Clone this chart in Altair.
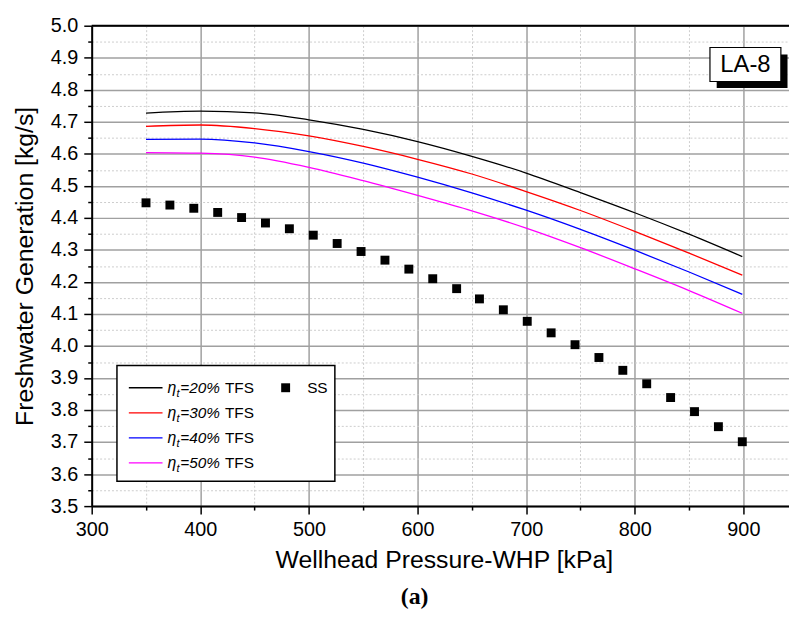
import altair as alt
import pandas as pd

# ---------------- data ----------------
series = ["eta20", "eta30", "eta40", "eta50"]
series_labels = ["=20%", "=30%", "=40%", "=50%"]
colors = ["#000000", "#ff0000", "#0000ff", "#ff00ff"]

x_line = [350, 400, 450, 500, 550, 600, 650, 700, 750, 800, 850, 899]
y_eta20 = [4.727, 4.733, 4.728, 4.706, 4.676, 4.638, 4.592, 4.540, 4.479, 4.416, 4.349, 4.279]
y_eta30 = [4.686, 4.690, 4.679, 4.656, 4.623, 4.583, 4.537, 4.482, 4.423, 4.358, 4.290, 4.221]
y_eta40 = [4.645, 4.646, 4.634, 4.607, 4.571, 4.527, 4.478, 4.424, 4.364, 4.299, 4.231, 4.161]
y_eta50 = [4.604, 4.602, 4.590, 4.558, 4.516, 4.470, 4.422, 4.368, 4.307, 4.241, 4.173, 4.102]

x_ss = [350, 372, 394, 416, 438, 460, 482, 504, 526, 548, 570, 592, 614,
        636, 657, 679, 701, 723, 745, 767, 789, 811, 833, 855, 877, 899]
y_ss = [4.447, 4.440, 4.430, 4.417, 4.401, 4.384, 4.366, 4.346, 4.320, 4.295,
        4.268, 4.240, 4.210, 4.179, 4.147, 4.113, 4.077, 4.041, 4.004, 3.964,
        3.924, 3.882, 3.839, 3.795, 3.748, 3.701]

x_ticks = [300, 350, 400, 450, 500, 550, 600, 650, 700, 750, 800, 850, 900]
y_ticks = [3.5, 3.55, 3.6, 3.65, 3.7, 3.75, 3.8, 3.85, 3.9, 3.95, 4.0, 4.05,
           4.1, 4.15, 4.2, 4.25, 4.3, 4.35, 4.4, 4.45, 4.5, 4.55, 4.6, 4.65,
           4.7, 4.75, 4.8, 4.85, 4.9, 4.95, 5.0]

# ---------------- tables ----------------
ys = [y_eta20, y_eta30, y_eta40, y_eta50]
rows = []
for s, yv in zip(series, ys):
    for xv, v in zip(x_line, yv):
        rows.append({"series": s, "x": xv, "y": v})
df_lines = pd.DataFrame(rows)
df_ss = pd.DataFrame({"x": x_ss, "y": y_ss})
one = pd.DataFrame({"k": [0]})

W, H = 704, 485
FONT = "Liberation Sans"

major_x = "datum.value % 100 == 0"
major_y = "round(datum.value * 100) % 10 == 0"

def axis(test, values, title, **kw):
    return alt.Axis(
        values=values,
        tickSize={"condition": {"test": test, "value": 8}, "value": 4},
        gridDash={"condition": {"test": test, "value": []}, "value": [2, 2]},
        gridColor={"condition": {"test": test, "value": "#a0a0a0"}, "value": "#cccccc"},
        gridWidth={"condition": {"test": test, "value": 1.5}, "value": 1},
        grid=True,
        domainColor="black", domainWidth=2,
        tickColor="black", tickWidth=1.5,
        labelFont=FONT, labelFontSize=20, labelColor="black",
        labelOverlap=False, labelFlush=False,
        title=title, titleFont=FONT, titleFontSize=25, titleFontWeight="normal",
        titleColor="black",
        **kw,
    )

xaxis = axis(major_x, x_ticks, "Wellhead Pressure-WHP [kPa]",
             labelExpr="datum.value % 100 == 0 ? datum.label : ''",
             labelPadding=6, titlePadding=8, titleX=355.5)
yaxis = axis(major_y, y_ticks, "Freshwater Generation [kg/s]",
             labelExpr=major_y + " ? format(datum.value, '.1f') : ''",
             labelPadding=6, titlePadding=13)

X = alt.X("x:Q", scale=alt.Scale(domain=[300, 942], nice=False, zero=False), axis=xaxis)
Y = alt.Y("y:Q", scale=alt.Scale(domain=[3.5, 5.0], nice=False, zero=False), axis=yaxis)

lines = alt.Chart(df_lines).mark_line(strokeWidth=1.3, interpolate="monotone", clip=True).encode(
    x=X, y=Y,
    color=alt.Color("series:N", scale=alt.Scale(domain=series, range=colors), legend=None),
)
points = alt.Chart(df_ss).mark_square(size=81, color="black", opacity=1).encode(x=X, y=Y)

layers = [lines, points]

# top frame line
layers.append(alt.Chart(one).mark_rule(color="black", strokeWidth=2).encode(
    x=alt.value(0), x2=alt.value(W), y=alt.value(0)))

# ---------------- legend (drawn manually) ----------------
layers.append(alt.Chart(one).mark_rect(fill="white", stroke="black", strokeWidth=1.5).encode(
    x=alt.value(25.5), x2=alt.value(245.5), y=alt.value(343), y2=alt.value(460)))
row_y = [365.5, 390.8, 416.1, 441.4]
for c, lab, ry in zip(colors, series_labels, row_y):
    layers.append(alt.Chart(one).mark_rule(color=c, strokeWidth=1.3).encode(
        x=alt.value(37.5), x2=alt.value(71.5), y=alt.value(ry)))
    layers.append(alt.Chart(one).mark_text(text="η", font=FONT, fontSize=16, fontStyle="italic",
                                           align="left", baseline="alphabetic", color="black").encode(
        x=alt.value(76.5), y=alt.value(ry + 5)))
    layers.append(alt.Chart(one).mark_text(text="t", font=FONT, fontSize=11, fontStyle="italic",
                                           align="left", baseline="alphabetic", color="black").encode(
        x=alt.value(85.5), y=alt.value(ry + 9)))
    layers.append(alt.Chart(one).mark_text(text=lab, font=FONT, fontSize=15.5, fontStyle="italic",
                                           align="left", baseline="alphabetic", color="black").encode(
        x=alt.value(89.5), y=alt.value(ry + 5)))
    layers.append(alt.Chart(one).mark_text(text="TFS", font=FONT, fontSize=15.5,
                                           align="left", baseline="alphabetic", color="black").encode(
        x=alt.value(134.5), y=alt.value(ry + 5)))
layers.append(alt.Chart(one).mark_square(size=81, color="black", opacity=1).encode(
    x=alt.value(195.8), y=alt.value(row_y[0])))
layers.append(alt.Chart(one).mark_text(text="SS", font=FONT, fontSize=15.5,
                                       align="left", baseline="alphabetic", color="black").encode(
    x=alt.value(217.5), y=alt.value(row_y[0] + 5)))

# ---------------- LA-8 label ----------------
layers.append(alt.Chart(one).mark_rect(fill="black").encode(
    x=alt.value(631), x2=alt.value(702.5), y=alt.value(29), y2=alt.value(63)))
layers.append(alt.Chart(one).mark_rect(fill="white", stroke="black", strokeWidth=1.2).encode(
    x=alt.value(624.2), x2=alt.value(695.8), y=alt.value(22), y2=alt.value(56.3)))
layers.append(alt.Chart(one).mark_text(text="LA-8", font=FONT, fontSize=24, align="center",
                                       baseline="middle", color="black").encode(
    x=alt.value(660), y=alt.value(39.5)))

# ---------------- (a) caption ----------------
layers.append(alt.Chart(one).mark_text(text="(a)", font="Liberation Serif", fontSize=24,
                                       fontWeight="bold", align="center", baseline="middle",
                                       color="black").encode(
    x=alt.value(326), y=alt.value(577)))

chart = alt.layer(*layers).properties(
    width=W, height=H,
    autosize=alt.AutoSizeParams(type="none"),
    padding={"left": 84.5, "top": 15, "right": 0, "bottom": 102},
    background="white",
).configure_view(stroke=None)

chart.save("out.html", embed_options={"renderer": "svg", "actions": False})
